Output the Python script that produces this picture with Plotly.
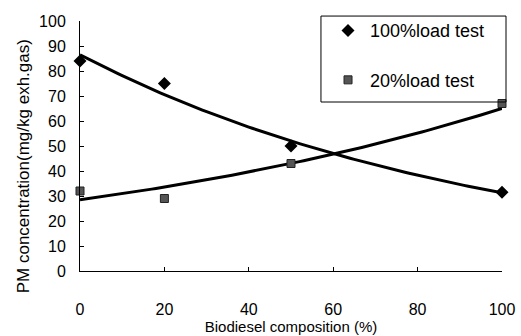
import numpy as np
import plotly.graph_objects as go

composition = [0, 20, 50, 100]
pm_full_load = [84, 75, 50, 31.5]
pm_low_load = [32, 29, 43, 67]
series_names = ["100%load test", "20%load test"]
x_ticks = [0, 20, 40, 60, 80, 100]
y_ticks = [0, 10, 20, 30, 40, 50, 60, 70, 80, 90, 100]
x_title = "Biodiesel composition (%)"
y_title = "PM concentration(mg/kg exh.gas)"


def exp_trend(x, y, xs):
    b, ln_a = np.polyfit(np.array(x, float), np.log(np.array(y, float)), 1)
    return np.exp(ln_a) * np.exp(b * xs)


xs = np.linspace(0, 100, 101)
font = "Liberation Sans, Arial, sans-serif"

fig = go.Figure()
fig.add_trace(go.Scatter(x=xs, y=exp_trend(composition, pm_full_load, xs), mode="lines",
                         line=dict(color="black", width=3), showlegend=False, hoverinfo="skip"))
fig.add_trace(go.Scatter(x=xs, y=exp_trend(composition, pm_low_load, xs), mode="lines",
                         line=dict(color="black", width=3), showlegend=False, hoverinfo="skip"))
fig.add_trace(go.Scatter(x=composition, y=pm_full_load, mode="markers", name=series_names[0],
                         legendgroup="a", cliponaxis=False,
                         marker=dict(symbol="diamond", size=10, color="black")))
fig.add_trace(go.Scatter(x=composition, y=pm_low_load, mode="markers", name=series_names[1],
                         legendgroup="b", cliponaxis=False,
                         marker=dict(symbol="square", size=8, color="#555555",
                                     line=dict(color="#222222", width=1))))

fig.add_shape(type="rect", xref="paper", yref="paper", x0=0.571, x1=1.0095, y0=0.676, y1=1.0198,
              line=dict(color="black", width=1), fillcolor="rgba(0,0,0,0)", layer="above")
fig.add_annotation(text=y_title, xref="paper", yref="paper", x=-0.135, y=0.419,
                   textangle=-90, showarrow=False, xanchor="center", yanchor="middle",
                   font=dict(size=17))

fig.update_layout(
    width=521, height=336,
    margin=dict(l=80, r=19, t=18, b=65),
    paper_bgcolor="white", plot_bgcolor="white",
    font=dict(family=font, color="black"),
    legend=dict(x=0.583, y=1.035, xanchor="left", yanchor="top",
                borderwidth=0, bgcolor="rgba(0,0,0,0)",
                font=dict(size=18), traceorder="grouped", tracegroupgap=23,
                itemwidth=34),
    xaxis=dict(range=[0, 100], tickvals=x_ticks, showgrid=False, zeroline=False,
               showline=True, linecolor="black", linewidth=1, automargin=False,
               ticks="inside", ticklen=4, tickcolor="black",
               tickfont=dict(size=16), ticklabelstandoff=24,
               title=dict(text=x_title, font=dict(size=15), standoff=4)),
    yaxis=dict(range=[0, 100], tickvals=y_ticks, showgrid=False, zeroline=False,
               showline=True, linecolor="black", linewidth=1, automargin=False,
               ticks="inside", ticklen=4, tickcolor="black",
               tickfont=dict(size=16), ticklabelstandoff=10),
)

fig.write_html("out.html")
